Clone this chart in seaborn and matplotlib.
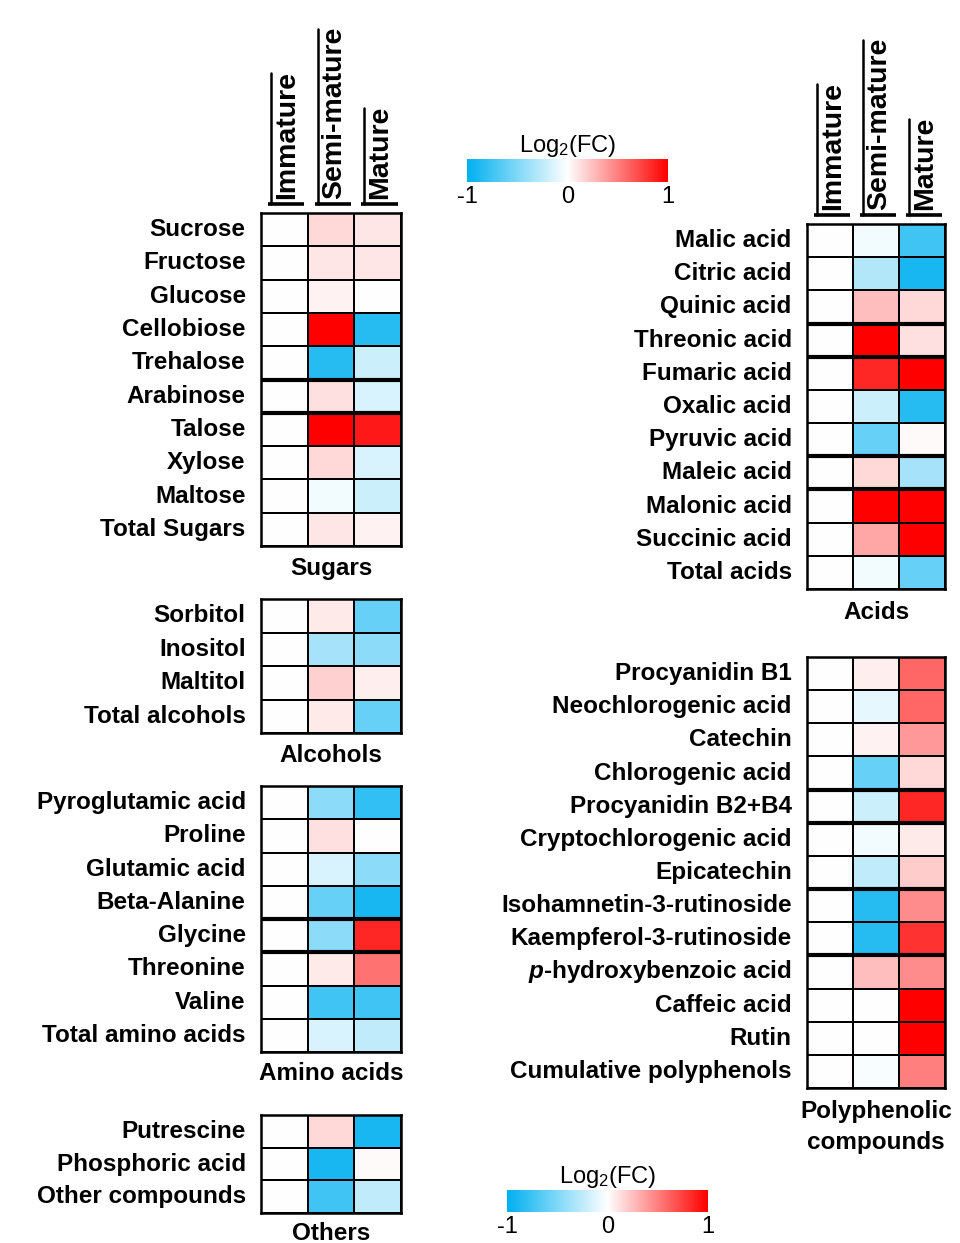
import matplotlib
matplotlib.use('Agg')
import matplotlib.pyplot as plt
from matplotlib.colors import LinearSegmentedColormap, Normalize
from matplotlib.cm import ScalarMappable
from matplotlib.lines import Line2D
import pandas as pd
import seaborn as sns

# ---- data: log2 fold change vs immature stage ----
stages = ['Immature', 'Semi-mature', 'Mature']

sugars = ['Sucrose', 'Fructose', 'Glucose', 'Cellobiose', 'Trehalose',
          'Arabinose', 'Talose', 'Xylose', 'Maltose', 'Total Sugars']
sugars_semi = [0.15, 0.10, 0.05, 1.00, -0.85, 0.12, 1.00, 0.15, -0.05, 0.10]
sugars_mature = [0.10, 0.10, 0.00, -0.85, -0.20, -0.15, 0.90, -0.15, -0.20, 0.05]

alcohols = ['Sorbitol', 'Inositol', 'Maltitol', 'Total alcohols']
alcohols_semi = [0.08, -0.35, 0.18, 0.08]
alcohols_mature = [-0.60, -0.45, 0.07, -0.60]

amino = ['Pyroglutamic acid', 'Proline', 'Glutamic acid', 'Beta-Alanine',
         'Glycine', 'Threonine', 'Valine', 'Total amino acids']
amino_semi = [-0.45, 0.12, -0.15, -0.60, -0.45, 0.08, -0.75, -0.15]
amino_mature = [-0.80, 0.00, -0.45, -0.90, 0.85, 0.55, -0.75, -0.25]

others = ['Putrescine', 'Phosphoric acid', 'Other compounds']
others_semi = [0.15, -0.90, -0.75]
others_mature = [-0.90, 0.02, -0.25]

acids = ['Malic acid', 'Citric acid', 'Quinic acid', 'Threonic acid',
         'Fumaric acid', 'Oxalic acid', 'Pyruvic acid', 'Maleic acid',
         'Malonic acid', 'Succinic acid', 'Total acids']
acids_semi = [-0.05, -0.30, 0.25, 1.00, 0.85, -0.20, -0.60, 0.15, 1.00, 0.35, -0.05]
acids_mature = [-0.75, -0.90, 0.15, 0.12, 1.00, -0.85, 0.02, -0.35, 1.00, 1.00, -0.60]

poly = ['Procyanidin B1', 'Neochlorogenic acid', 'Catechin', 'Chlorogenic acid',
        'Procyanidin B2+B4', 'Cryptochlorogenic acid', 'Epicatechin',
        'Isohamnetin-3-rutinoside', 'Kaempferol-3-rutinoside',
        r'$p$-hydroxybenzoic acid', 'Caffeic acid', 'Rutin',
        'Cumulative polyphenols']
poly_semi = [0.07, -0.10, 0.05, -0.60, -0.20, -0.05, -0.25, -0.85, -0.85, 0.25, 0.00, 0.00, -0.03]
poly_mature = [0.60, 0.60, 0.40, 0.15, 0.85, 0.08, 0.20, 0.45, 0.80, 0.45, 1.00, 1.00, 0.50]

sns.set_theme(style='white')
plt.rcParams['font.family'] = ['Liberation Sans', 'DejaVu Sans']
plt.rcParams['mathtext.fontset'] = 'custom'
plt.rcParams['mathtext.rm'] = 'Liberation Sans'
plt.rcParams['mathtext.it'] = 'Liberation Sans:italic:bold'
plt.rcParams['axes.unicode_minus'] = False
for k in ['text.color', 'axes.labelcolor', 'xtick.color', 'ytick.color']:
    plt.rcParams[k] = 'black'

W, H = 960, 1243
cmap = LinearSegmentedColormap.from_list('fc', ['#00B0F0', '#FFFFFF', '#FF0000'])
LABEL_FS = 17.5


def px_rect(x0, y0, x1, y1):
    return [x0 / W, 1 - y1 / H, (x1 - x0) / W, (y1 - y0) / H]


def panel(fig, box, names, semi, mature, title, title_off, thick=(), header=False):
    ax = fig.add_axes(px_rect(*box))
    df = pd.DataFrame({'Immature': [0.0] * len(names),
                       'Semi-mature': semi,
                       'Mature': mature}, index=names)
    sns.heatmap(df, ax=ax, cmap=cmap, vmin=-1, vmax=1, cbar=False,
                linewidths=1.3, linecolor='black',
                xticklabels=False, yticklabels=True)
    ax.set_yticklabels(names, rotation=0, fontsize=LABEL_FS, fontweight='bold',
                       color='black')
    ax.tick_params(axis='y', length=0, pad=11)
    ax.set_xlabel('')
    ax.set_ylabel('')
    for s in ax.spines.values():
        s.set_visible(True)
        s.set_linewidth(1.8)
        s.set_color('black')
    for r in thick:
        ax.axhline(r, color='black', lw=3)
    ax.annotate(title, xy=(0.5, 0), xycoords='axes fraction',
                xytext=(0, -title_off), textcoords='offset pixels',
                ha='center', va='center', fontsize=LABEL_FS, fontweight='bold',
                linespacing=1.4)
    texts = []
    if header:
        for i, st in enumerate(stages):
            t = ax.text(i + 0.56, -0.42, st, rotation=90, ha='center', va='bottom',
                        fontsize=20.5, fontweight='bold', clip_on=False)
            ax.plot([i + 0.15, i + 0.93], [-0.27, -0.27], color='black', lw=2.6,
                    clip_on=False, solid_capstyle='butt')
            texts.append(t)
    return ax, texts


fig = plt.figure(figsize=(W / 100, H / 100), dpi=100)

ax_s, head_l = panel(fig, (261, 213, 401, 546), sugars, sugars_semi, sugars_mature,
                     'Sugars', 22, thick=[5, 6], header=True)
panel(fig, (261, 599, 401, 733), alcohols, alcohols_semi, alcohols_mature,
      'Alcohols', 22)
panel(fig, (261, 786, 401, 1052), amino, amino_semi, amino_mature,
      'Amino acids', 21, thick=[4, 5])
panel(fig, (261, 1115, 401, 1213), others, others_semi, others_mature,
      'Others', 20)
ax_a, head_r = panel(fig, (807, 224, 945, 589), acids, acids_semi, acids_mature,
                     'Acids', 23, thick=[3, 4, 7, 8], header=True)
panel(fig, (807, 657, 945, 1088), poly, poly_semi, poly_mature,
      'Polyphenolic\ncompounds', 39, thick=[4, 5, 7, 9])

# colour scales
for box in [(467, 159, 668, 182), (507, 1190, 708, 1212)]:
    cax = fig.add_axes(px_rect(*box))
    cb = fig.colorbar(ScalarMappable(norm=Normalize(-1, 1), cmap=cmap),
                      cax=cax, orientation='horizontal')
    cb.set_ticks([-1, 0, 1])
    cb.set_ticklabels(['-1', '0', '1'])
    cb.outline.set_visible(False)
    cax.tick_params(length=0, labelsize=17, pad=3)
    cax.set_title('Log$_2$(FC)', fontsize=17, pad=4)

# small vertical bars at the left of each column header
fig.canvas.draw()
renderer = fig.canvas.get_renderer()
inv = fig.transFigure.inverted()
for ax, texts in [(ax_s, head_l), (ax_a, head_r)]:
    for t in texts:
        bb = t.get_window_extent(renderer=renderer)
        y_base = ax.transData.transform((0, -0.27))[1]
        x = bb.x0 - 3
        (fx, fy0) = inv.transform((x, y_base))
        (_, fy1) = inv.transform((x, bb.y1 - 2))
        fig.add_artist(Line2D([fx, fx], [fy0, fy1], color='black', lw=1.8))

fig.savefig('out.png', dpi=100)
